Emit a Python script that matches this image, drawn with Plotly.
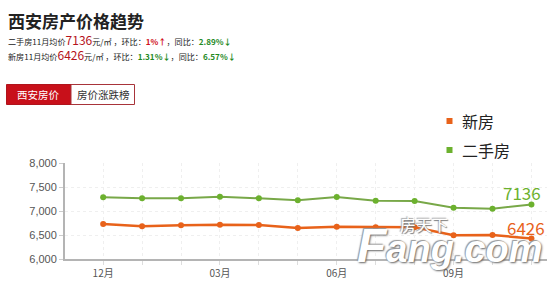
import plotly.graph_objects as go

months = ["12月", "01月", "02月", "03月", "04月", "05月", "06月", "07月", "08月", "09月", "10月", "11月"]
series_names = ["新房", "二手房"]
new_house = [6729, 6681, 6702, 6715, 6708, 6646, 6674, 6660, 6660, 6493, 6500, 6426]
second_hand = [7285, 7264, 7264, 7298, 7264, 7222, 7292, 7215, 7208, 7069, 7048, 7136]
y_ticks = [6000, 6500, 7000, 7500, 8000]
shown_ticks = ["12月", "03月", "06月", "09月"]

ORANGE = "#e8621a"
GREEN = "#6cb12e"
CJK = "Noto Sans CJK SC"

W, H = 550, 283
L, R, T, B = 65, 547, 163, 259


def px(x):
    return (x - L) / (R - L)


def py(y):
    return (B - y) / (B - T)


fig = go.Figure()
fig.add_trace(go.Scatter(x=list(range(len(months))), y=second_hand, mode="lines+markers",
                         name=series_names[1], line=dict(color="#78a848", width=2),
                         marker=dict(color=GREEN, size=6), showlegend=False))
fig.add_trace(go.Scatter(x=list(range(len(months))), y=new_house, mode="lines+markers",
                         name=series_names[0], line=dict(color=ORANGE, width=2.5),
                         marker=dict(color=ORANGE, size=6), showlegend=False))

ann = []
shapes = []


def text_at(x, y, text, size, color, family=CJK, xanchor="center", **kw):
    ann.append(dict(x=px(x), y=py(y), xref="paper", yref="paper", text=text, showarrow=False,
                    xanchor=xanchor, yanchor="middle",
                    font=dict(family=family, size=size, color=color, **kw)))


# watermark (drawn first so the value labels stay on top)
text_at(424, 224, "房天下", 16, "white", shadow="1px 1px 1px #777, -1px -1px 1px #aaa")
text_at(450, 245, "<b><i><span style='font-size:48px'>F</span>ang.com</i></b>", 38, "white",
        family="Liberation Sans", shadow="1px 1px 2px #666, -1px -1px 1px #999")

# end labels
ann.append(dict(x=len(months) - 1, y=second_hand[-1], xref="x", yref="y", text=str(second_hand[-1]),
                showarrow=False, xshift=-9, yshift=12, font=dict(family=CJK, size=17, color=GREEN)))
ann.append(dict(x=len(months) - 1, y=new_house[-1], xref="x", yref="y", text=str(new_house[-1]),
                showarrow=False, xshift=-5, yshift=11, font=dict(family=CJK, size=17, color=ORANGE)))

# legend
for name, col, yy in [(series_names[0], ORANGE, 121), (series_names[1], GREEN, 150)]:
    shapes.append(dict(type="rect", xref="paper", yref="paper", x0=px(446.5), x1=px(452.5),
                       y0=py(yy + 3), y1=py(yy - 3), fillcolor=col, line=dict(width=0)))
    text_at(460, yy, name, 16, "#222", xanchor="left")

# header
text_at(6, 20, "<b>西安房产价格趋势</b>", 17, "#222", xanchor="left")
RED = "#b5121b"
DG = "#1f8a1f"
line2 = ("二手房11月均价<span style='font-size:12px;color:%s'>%d</span>元/㎡ ，环比：<b><span style='color:#d0101a'>1%%↑</span></b>，同比：<b><span style='color:%s'>2.89%%↓</span></b>"
         % (RED, second_hand[-1], DG))
line3 = ("新房11月均价<span style='font-size:12px;color:%s'>%d</span>元/㎡ ，环比：<b><span style='color:%s'>1.31%%↓</span></b>，同比：<b><span style='color:%s'>6.57%%↓</span></b>"
         % (RED, new_house[-1], DG, DG))
text_at(6, 39, line2, 8.1, "#222", xanchor="left")
text_at(6, 54, line3, 8.1, "#222", xanchor="left")

# tabs
shapes.append(dict(type="rect", xref="paper", yref="paper", x0=px(6.5), x1=px(71), y0=py(104.5), y1=py(84.5),
                   fillcolor="#c8101a", line=dict(color="#b0141c", width=1), layer="below"))
shapes.append(dict(type="rect", xref="paper", yref="paper", x0=px(71), x1=px(134.5), y0=py(104.5), y1=py(84.5),
                   fillcolor="white", line=dict(color="#a8343a", width=1), layer="below"))
text_at(38.5, 94.5, "西安房价", 10.5, "white")
text_at(103, 94.5, "房价涨跌榜", 10.5, "#333")

fig.update_layout(
    width=W, height=H, margin=dict(l=L, r=W - R, t=T, b=H - B),
    paper_bgcolor="white", plot_bgcolor="white",
    annotations=ann, shapes=shapes, showlegend=False,
    xaxis=dict(range=[-0.98, 11.4], tickvals=list(range(len(months))),
               ticktext=[m if m in shown_ticks else "" for m in months],
               showline=True, linecolor="#b4b4b4", linewidth=2,
               showgrid=True, gridcolor="#efefef", griddash="dot", gridwidth=1,
               ticks="outside", ticklen=4, tickcolor="#dddddd",
               tickfont=dict(family=CJK, size=10, color="#555"), zeroline=False),
    yaxis=dict(range=[6000, 8000], tickvals=y_ticks, tickformat=",",
               showline=True, linecolor="#b4b4b4", linewidth=2,
               showgrid=True, gridcolor="#efefef", griddash="dot", gridwidth=1,
               ticks="outside", ticklen=4, tickcolor="#cccccc",
               tickfont=dict(family="Liberation Sans", size=11, color="#555"), zeroline=False),
)

fig.write_html("out.html")
